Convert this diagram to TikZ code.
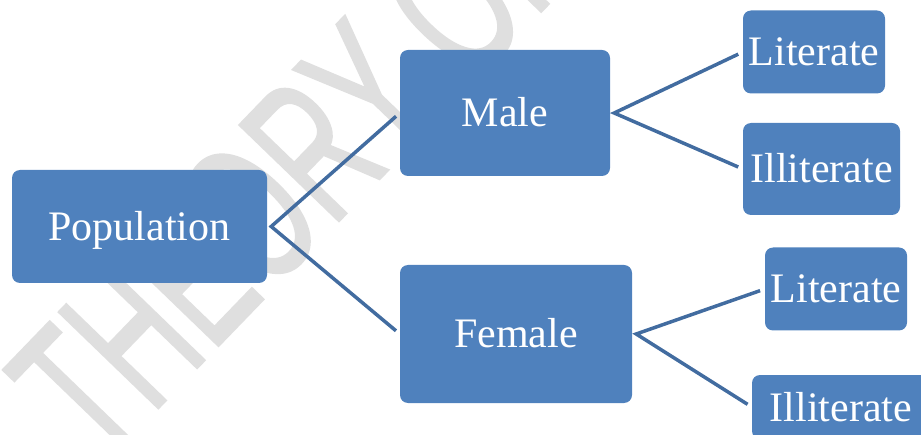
\documentclass[tikz,border=0pt]{standalone}
\usepackage{fontspec}
\setmainfont{Liberation Serif}
\newfontfamily\markfont[FakeBold=1.5]{Liberation Sans}
\definecolor{boxblue}{RGB}{79,129,189}
\definecolor{linkblue}{RGB}{66,108,160}
\definecolor{markgray}{RGB}{223,223,223}
\begin{document}
\begin{tikzpicture}[x=1pt, y=1pt,
    box/.style={fill=boxblue, rounded corners=8pt, text=white, inner sep=0pt,
        font=\fontsize{42}{50}\selectfont, text height=28pt, text depth=0pt},
    link/.style={linkblue, line width=3.5pt, shorten <=5pt, shorten >=5pt}]
    \useasboundingbox (0,0) rectangle (921,434);
    \node[markgray, rotate=46, anchor=base west, inner sep=0pt,
        font=\markfont\fontsize{200}{200}\selectfont] (mark) at (100,-34)
        {\scalebox{0.6}[1]{THEORY OF}};
    \node[box, minimum width=255pt, minimum height=113pt] (pop) at (139.5,207.5) {Population};
    \node[box, minimum width=210pt, minimum height=126pt] (male) at (505,321) {Male};
    \node[box, minimum width=232pt, minimum height=138pt] (female) at (516,100) {Female};
    \node[box, minimum width=142pt, minimum height=83pt] (m-lit) at (814,382) {Literate};
    \node[box, minimum width=157pt, minimum height=92pt] (m-ill) at (821.5,265) {Illiterate};
    \node[box, minimum width=142pt, minimum height=83pt] (f-lit) at (836,145) {Literate};
    \node[box, minimum width=178pt, minimum height=64pt] (f-ill) at (841,27) {Illiterate};
    \coordinate (pop-fork) at ([xshift=4pt]pop.east);
    \coordinate (male-fork) at ([xshift=4pt]male.east);
    \coordinate (female-fork) at ([xshift=4pt]female.east);
    \draw[link] (male.west) -- (pop-fork) -- (female.west);
    \draw[link] (m-lit.west) -- (male-fork) -- (m-ill.west);
    \draw[link] (f-lit.west) -- (female-fork) -- (f-ill.west);
\end{tikzpicture}
\end{document}
